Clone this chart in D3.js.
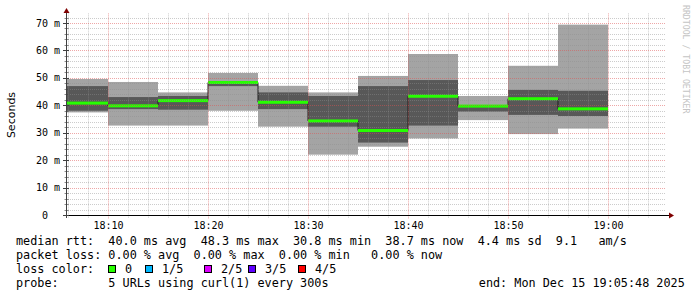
<!DOCTYPE html>
<html>
<head>
<meta charset="utf-8">
<script src="https://cdn.jsdelivr.net/npm/d3@7"></script>
<style>
  body { margin: 0; background: #fff; }
  svg { display: block; }
  text { font-family: "DejaVu Sans Mono", monospace; white-space: pre; }
</style>
</head>
<body>
<svg width="697" height="297"></svg>
<script>
// sample end times, 5 minute steps
const times = ['18:10', '18:15', '18:20', '18:25', '18:30', '18:35', '18:40', '18:45', '18:50', '18:55', '19:00'];
// smoke: 5 sorted pings per step (ms)
const pingMin = [37.4, 32.6, 32.6, 38.0, 32.2, 22.0, 24.9, 27.9, 34.6, 29.5, 31.5];
const ping2 = [38.0, 38.6, 38.4, 47.0, 38.6, 32.2, 26.4, 32.6, 37.7, 36.5, 36.1];
const median = [40.8, 39.8, 41.7, 48.3, 41.1, 34.3, 30.8, 43.3, 39.7, 42.4, 38.7];
const ping4 = [47.0, 43.0, 43.4, 48.8, 44.7, 43.4, 47.0, 49.2, 40.1, 45.6, 45.3];
const pingMax = [49.6, 48.5, 44.7, 51.8, 47.1, 44.7, 50.7, 58.7, 43.4, 54.4, 69.4];

const yTicks = [0, 10, 20, 30, 40, 50, 60, 70];
const xTickLabels = ['18:10', '18:20', '18:30', '18:40', '18:50', '19:00'];

const lossNames = ['0', '1/5', '2/5', '3/5', '4/5'];
const lossColors = ['#26ff00', '#00b8ff', '#dd00ff', '#5e00ff', '#ff0000'];

const legendLines = [
  'median rtt:  40.0 ms avg  48.3 ms max  30.8 ms min  38.7 ms now  4.4 ms sd  9.1   am/s',
  'packet loss: 0.00 % avg  0.00 % max  0.00 % min   0.00 % now',
  'loss color:',
  'probe:       5 URLs using curl(1) every 300s'
];
const endText = 'end: Mon Dec 15 19:05:48 2025';

const parseT = s => {
  const [h, m] = s.split(':').map(Number);
  return new Date(2025, 11, 15, h, m, 0);
};
const tStart = new Date(2025, 11, 15, 18, 5, 48);
const tEnd = new Date(2025, 11, 15, 19, 5, 48);

const svg = d3.select('svg');

const x = d3.scaleTime().domain([tStart, tEnd]).range([66, 666]);
const y = d3.scaleLinear().domain([0, 70]).range([215, 23]);
const yTop = y(73.5);

const steps = times.map((t, i) => {
  const end = parseT(t);
  const start = new Date(Math.max(end - 5 * 60000, +tStart));
  return { start, end, min: pingMin[i], p2: ping2[i], med: median[i], p4: ping4[i], max: pingMax[i] };
});

// smoke
const smoke = svg.append('g');
smoke.selectAll('.light')
  .data(steps).enter().append('rect')
  .attr('x', d => x(d.start)).attr('width', d => x(d.end) - x(d.start))
  .attr('y', d => y(d.max)).attr('height', d => y(d.min) - y(d.max))
  .attr('fill', '#a4a4a4');
smoke.selectAll('.dark')
  .data(steps).enter().append('rect')
  .attr('x', d => x(d.start)).attr('width', d => x(d.end) - x(d.start))
  .attr('y', d => y(d.p4)).attr('height', d => y(d.p2) - y(d.p4))
  .attr('fill', '#585858');

// median step line
const pts = steps.map(d => [x(d.start), y(d.med)]);
pts.push([x(steps[steps.length - 1].end), y(steps[steps.length - 1].med)]);
svg.append('path')
  .attr('d', d3.line().curve(d3.curveStepAfter)(pts))
  .attr('fill', 'none').attr('stroke', '#202020').attr('stroke-width', 1);

// loss colored band (loss 0 everywhere)
svg.append('g').selectAll('rect')
  .data(steps).enter().append('rect')
  .attr('x', d => x(d.start)).attr('width', d => x(d.end) - x(d.start))
  .attr('y', d => y(d.med) - 1.5).attr('height', 3)
  .attr('fill', lossColors[0]);

// grid
const grid = svg.append('g');
const hMinor = d3.range(2, 73, 2).filter(v => v % 10 !== 0);
grid.selectAll('.hmin').data(hMinor).enter().append('line')
  .attr('x1', 66).attr('x2', 666)
  .attr('y1', d => Math.round(y(d)) + 0.5).attr('y2', d => Math.round(y(d)) + 0.5)
  .attr('stroke', 'rgba(143,143,143,0.45)').attr('stroke-dasharray', '1,1');
const vMinor = d3.timeMinute.every(2).range(tStart, tEnd).filter(t => t.getMinutes() % 10 !== 0);
grid.selectAll('.vmin').data(vMinor).enter().append('line')
  .attr('y1', yTop).attr('y2', 218)
  .attr('x1', d => Math.round(x(d)) + 0.5).attr('x2', d => Math.round(x(d)) + 0.5)
  .attr('stroke', 'rgba(143,143,143,0.45)').attr('stroke-dasharray', '1,1');
grid.selectAll('.hmaj').data(yTicks.slice(1)).enter().append('line')
  .attr('x1', 66).attr('x2', 666)
  .attr('y1', d => Math.round(y(d)) + 0.5).attr('y2', d => Math.round(y(d)) + 0.5)
  .attr('stroke', 'rgba(222,80,80,0.5)').attr('stroke-dasharray', '1,1');
grid.selectAll('.vmaj').data(xTickLabels.map(parseT)).enter().append('line')
  .attr('y1', yTop).attr('y2', 219)
  .attr('x1', d => Math.round(x(d)) + 0.5).attr('x2', d => Math.round(x(d)) + 0.5)
  .attr('stroke', 'rgba(222,80,80,0.5)').attr('stroke-dasharray', '1,1');

// axes
svg.append('line').attr('x1', 63).attr('x2', 670).attr('y1', 215.5).attr('y2', 215.5)
  .attr('stroke', '#000');
svg.append('line').attr('x1', 66.5).attr('x2', 66.5).attr('y1', 218).attr('y2', 10)
  .attr('stroke', '#404040');
svg.append('path').attr('d', 'M669,212.5 L674,215.5 L669,218.5 Z').attr('fill', '#7f0000');
svg.append('path').attr('d', 'M63.5,13 L66.5,8 L69.5,13 Z').attr('fill', '#7f0000');

// y ticks + labels
svg.append('g').selectAll('line').data(yTicks).enter().append('line')
  .attr('x1', 63).attr('x2', 69)
  .attr('y1', d => Math.round(y(d)) + 0.5).attr('y2', d => Math.round(y(d)) + 0.5)
  .attr('stroke', '#404040');
svg.append('g').selectAll('line').data(d3.range(2, 73, 2).filter(v => v % 10 !== 0)).enter().append('line')
  .attr('x1', 64.5).attr('x2', 68.5)
  .attr('y1', d => Math.round(y(d)) + 0.5).attr('y2', d => Math.round(y(d)) + 0.5)
  .attr('stroke', 'rgba(64,64,64,0.6)');
const yl = svg.append('g').attr('font-size', '10px').attr('fill', '#000');
yl.selectAll('.num').data(yTicks).enter().append('text')
  .attr('x', 48).attr('y', d => y(d) + 3.6).attr('text-anchor', 'end')
  .text(d => d);
yl.selectAll('.unit').data(yTicks.filter(v => v > 0)).enter().append('text')
  .attr('x', 54).attr('y', d => y(d) + 3.6)
  .text('m');

// x labels
svg.append('g').attr('font-size', '10px').selectAll('text')
  .data(xTickLabels).enter().append('text')
  .attr('x', d => x(parseT(d)) + 0.5).attr('y', 228.5).attr('text-anchor', 'middle')
  .text(d => d);

// axis title
svg.append('text').attr('transform', 'translate(14.5,115) rotate(-90)')
  .attr('text-anchor', 'middle').attr('font-size', '11px')
  .style('font-family', '"DejaVu Sans", sans-serif')
  .text('Seconds');

// watermark
svg.append('text').attr('transform', 'translate(683,5) rotate(90)')
  .attr('font-size', '8.2px').attr('fill', '#c4c4c4')
  .text('RRDTOOL / TOBI OETIKER');

// legend
const cw = 7.12;
const legend = svg.append('g').attr('font-size', '11.8px').attr('fill', '#000');
const lineY = [245, 259.1, 273.2, 287.3];
legend.selectAll('.ln').data(legendLines).enter().append('text')
  .attr('x', 16).attr('y', (d, i) => lineY[i]).text(d => d);
legend.append('text').attr('x', 16 + 65 * cw).attr('y', lineY[3]).text(endText);

const swatchX = [108, 145, 204, 248, 298];
const sw = legend.selectAll('.sw').data(lossNames).enter().append('g');
sw.append('rect')
  .attr('x', (d, i) => swatchX[i] + 0.5).attr('y', 265.5).attr('width', 7).attr('height', 7)
  .attr('fill', (d, i) => lossColors[i]).attr('stroke', '#000');
sw.append('text')
  .attr('x', (d, i) => swatchX[i] + 17).attr('y', lineY[2])
  .text(d => d);
</script>
</body>
</html>
